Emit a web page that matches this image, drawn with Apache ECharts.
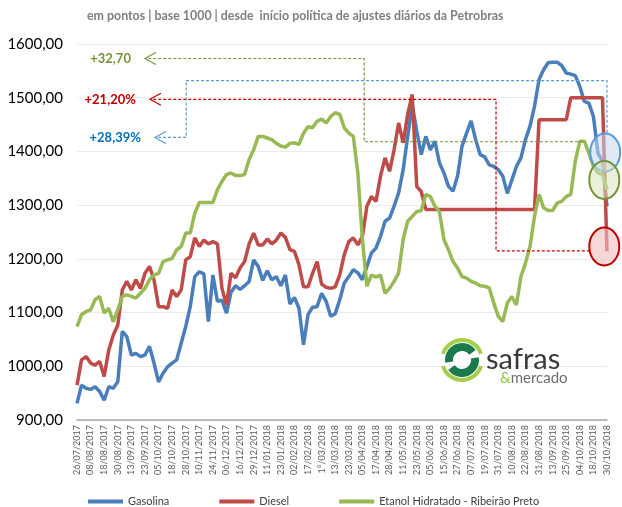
<!DOCTYPE html>
<html>
<head>
<meta charset="utf-8">
<script src="https://cdn.jsdelivr.net/npm/echarts/dist/echarts.min.js"></script>
<style>
    * { margin: 0; padding: 0; }
    body { background: #FFFFFF; }
    #main { width: 622px; height: 507px; }
</style>
</head>
<body>
<div id="main"></div>
<script>
    // rótulos do eixo x (um a cada 3 pontos)
    var dateLabels = ['26/07/2017', '08/08/2017', '18/08/2017', '30/08/2017', '13/09/2017', '23/09/2017',
        '05/10/2017', '18/10/2017', '28/10/2017', '10/11/2017', '24/11/2017', '06/12/2017', '16/12/2017',
        '29/12/2017', '11/01/2018', '23/01/2018', '02/02/2018', '17/02/2018', '1°/03/2018', '13/03/2018',
        '23/03/2018', '05/04/2018', '17/04/2018', '28/04/2018', '11/05/2018', '23/05/2018', '05/06/2018',
        '15/06/2018', '27/06/2018', '07/07/2018', '19/07/2018', '31/07/2018', '10/08/2018', '22/08/2018',
        '31/08/2018', '13/09/2018', '25/09/2018', '04/10/2018', '18/10/2018', '30/10/2018'];

    var gasolina = [
        931, 965, 959, 957, 962, 953, 937, 962, 959, 971,
        1065, 1055, 1021, 1024, 1018, 1021, 1037, 1006, 971, 987,
        999, 1006, 1012, 1043, 1074, 1111, 1167, 1176, 1172, 1083,
        1170, 1121, 1123, 1099, 1138, 1150, 1143, 1150, 1158, 1198,
        1186, 1160, 1178, 1161, 1167, 1150, 1170, 1116, 1128, 1108,
        1040, 1096, 1110, 1111, 1136, 1121, 1093, 1098, 1124, 1155,
        1167, 1180, 1174, 1161, 1186, 1211, 1220, 1242, 1270, 1276,
        1298, 1323, 1366, 1428, 1487, 1438, 1394, 1428, 1403, 1419,
        1379, 1360, 1335, 1326, 1354, 1410, 1434, 1457, 1422, 1394,
        1390, 1375, 1372, 1366, 1354, 1322, 1347, 1372, 1388, 1422,
        1447, 1484, 1534, 1552, 1565, 1566, 1566, 1560, 1546, 1544,
        1541, 1521, 1493, 1490, 1465, 1397, 1382, 1298];

    var diesel = [
        965, 1012, 1018, 1006, 1002, 1009, 981, 1030, 1058, 1077,
        1142, 1158, 1142, 1161, 1145, 1173, 1186, 1161, 1111, 1111,
        1108, 1142, 1130, 1142, 1198, 1204, 1239, 1223, 1235, 1228,
        1232, 1228, 1145, 1114, 1173, 1165, 1183, 1195, 1228, 1248,
        1226, 1226, 1237, 1228, 1235, 1248, 1240, 1217, 1214, 1189,
        1148, 1148, 1173, 1195, 1153, 1147, 1145, 1148, 1170, 1208,
        1232, 1239, 1226, 1242, 1298, 1316, 1307, 1354, 1388, 1363,
        1403, 1453, 1416, 1469, 1506, 1335, 1325, 1292, 1292, 1292,
        1292, 1292, 1292, 1292, 1292, 1292, 1292, 1292, 1292, 1292,
        1292, 1292, 1292, 1292, 1292, 1292, 1292, 1292, 1292, 1292,
        1292, 1292, 1459, 1459, 1459, 1459, 1459, 1459, 1459, 1500,
        1500, 1500, 1500, 1500, 1500, 1500, 1500, 1214];

    var etanol = [
        1074, 1096, 1102, 1105, 1124, 1130, 1099, 1108, 1083, 1105,
        1130, 1133, 1130, 1127, 1136, 1145, 1161, 1170, 1173, 1195,
        1198, 1201, 1217, 1223, 1248, 1248, 1285, 1305, 1305, 1305,
        1305, 1329, 1344, 1357, 1360, 1355, 1355, 1357, 1385, 1403,
        1428, 1428, 1425, 1422, 1415, 1410, 1408, 1415, 1416, 1413,
        1434, 1446, 1444, 1456, 1460, 1453, 1465, 1472, 1469, 1444,
        1434, 1428, 1360, 1236, 1149, 1170, 1166, 1170, 1136, 1145,
        1158, 1174, 1236, 1270, 1279, 1288, 1290, 1320, 1316, 1298,
        1288, 1236, 1217, 1195, 1183, 1167, 1164, 1158, 1155, 1150,
        1149, 1146, 1118, 1093, 1083, 1118, 1130, 1114, 1167, 1192,
        1223, 1279, 1320, 1295, 1290, 1290, 1304, 1307, 1316, 1320,
        1382, 1419, 1419, 1397, 1372, 1360, 1357, 1329];

    var seriesNames = ['Gasolina', 'Diesel', 'Etanol Hidratado - Ribeirão Preto'];

    var categories = [];
    for (var i = 0; i < gasolina.length; i++) {
        categories.push(i % 3 === 0 ? dateLabels[i / 3] : '');
    }

    var myChart = echarts.init(document.getElementById('main'));

    function fmt(v) {
        return v.toFixed(2).replace('.', ',');
    }

    var option = {
        animation: false,
        color: ['#4A7EBB', '#BE4B48', '#98B954'],
        grid: { left: 77, right: 15, top: 44, bottom: 87 },
        legend: {
            left: 83,
            top: 491,
            itemWidth: 35,
            itemHeight: 4,
            itemGap: 50,
            icon: 'rect',
            textStyle: { fontFamily: 'Lato', fontSize: 11, color: '#404040' },
            data: seriesNames
        },
        xAxis: {
            type: 'category',
            boundaryGap: false,
            data: categories,
            axisLine: { lineStyle: { color: '#A6A6A6', width: 1.5 } },
            axisTick: { show: false },
            axisLabel: {
                interval: 2,
                rotate: 90,
                margin: 5,
                fontFamily: 'Lato',
                fontSize: 9,
                color: '#595959'
            }
        },
        yAxis: {
            type: 'value',
            min: 900,
            max: 1600,
            interval: 100,
            axisLine: { show: false },
            axisTick: { show: false },
            splitLine: { lineStyle: { color: '#EBEBEB', width: 1 } },
            axisLabel: {
                margin: 14,
                fontFamily: 'Lato',
                fontSize: 15,
                color: '#000000',
                formatter: fmt
            }
        },
        series: [
            { name: seriesNames[0], type: 'line', data: gasolina, showSymbol: false, lineStyle: { width: 3.5 } },
            { name: seriesNames[1], type: 'line', data: diesel, showSymbol: false, lineStyle: { width: 3.5 } },
            { name: seriesNames[2], type: 'line', data: etanol, showSymbol: false, lineStyle: { width: 3.5 } }
        ]
    };

    myChart.setOption(option);

    // anotações (índice de categoria, valor)
    var annotations = [
        { text: '+32,70', color: '#77933C', dash: '#77933C',
          path: [[111.7, 1418], [63.4, 1418], [63.4, 1573], [15.0, 1573]] },
        { text: '+21,20%', color: '#C00000', dash: '#C00000',
          path: [[113.2, 1215], [92.5, 1215], [92.5, 1497], [16.1, 1497]] },
        { text: '+28,39%', color: '#0070C0', dash: '#5B9BD5',
          path: [[117, 1435], [117, 1532], [24.1, 1532], [24.1, 1426], [17.2, 1426]] }
    ];
    var ellipses = [
        { at: [116.6, 1398], fill: 'rgba(198,217,241,0.55)', stroke: '#5B9BD5' },
        { at: [116.4, 1347], fill: 'rgba(215,228,189,0.55)', stroke: '#77933C' },
        { at: [116.4, 1223], fill: 'rgba(242,190,190,0.6)', stroke: '#C00000' }
    ];

    function P(idx, v) {
        var a = myChart.convertToPixel({ gridIndex: 0 }, [0, v]);
        var b = myChart.convertToPixel({ gridIndex: 0 }, [gasolina.length - 1, v]);
        return [a[0] + (b[0] - a[0]) * idx / (gasolina.length - 1), a[1]];
    }

    var graphics = [];

    graphics.push({
        type: 'text', left: 87, top: 10,
        style: {
            text: 'em pontos | base 1000 | desde  início política de ajustes diários da Petrobras',
            fill: '#7F7F7F', font: 'bold 12.4px Lato'
        }
    });

    annotations.forEach(function (a) {
        var pts = a.path.map(function (p) { return P(p[0], p[1]); });
        graphics.push({
            type: 'polyline', z: 100, silent: true,
            shape: { points: pts },
            style: { stroke: a.dash, lineWidth: 1.2, lineDash: [3, 2], fill: null }
        });
        var tip = pts[pts.length - 1];
        graphics.push({
            type: 'polyline', z: 100, silent: true,
            shape: { points: [[tip[0] + 11, tip[1] - 6], tip, [tip[0] + 11, tip[1] + 6]] },
            style: { stroke: a.dash, lineWidth: 1.2, fill: null }
        });
        graphics.push({
            type: 'text', z: 100, silent: true,
            x: tip[0] - 14, y: tip[1],
            style: {
                text: a.text, fill: a.color, font: 'bold 13px Lato',
                align: 'right', verticalAlign: 'middle'
            }
        });
    });

    ellipses.forEach(function (e) {
        var c = P(e.at[0], e.at[1]);
        graphics.push({
            type: 'ellipse', z: 100, silent: true,
            shape: { cx: c[0], cy: c[1], rx: 15, ry: 19 },
            style: { fill: e.fill, stroke: e.stroke, lineWidth: 2 }
        });
    });

    // logo safras & mercado
    graphics.push({
        type: 'group', x: 462, y: 360, z: 50, silent: true,
        children: [
            { type: 'sector', shape: { cx: 0, cy: 0, r0: 18, r: 22, startAngle: Math.PI * 1.1, endAngle: Math.PI * 1.9 }, style: { fill: '#A4CF4A' } },
            { type: 'sector', shape: { cx: 0, cy: 0, r0: 18, r: 22, startAngle: Math.PI * 0.1, endAngle: Math.PI * 0.9 }, style: { fill: '#A4CF4A' } },
            { type: 'sector', shape: { cx: 0, cy: 0, r0: 9, r: 17, startAngle: Math.PI * 0.95, endAngle: Math.PI * 1.8 }, style: { fill: '#1A7A4C' } },
            { type: 'sector', shape: { cx: 0, cy: 0, r0: 9, r: 17, startAngle: Math.PI * -0.05, endAngle: Math.PI * 0.8 }, style: { fill: '#1A7A4C' } }
        ]
    });
    graphics.push({
        type: 'text', x: 486, y: 360, z: 50, silent: true,
        style: { text: 'safras', fill: '#3A3A3A', font: '29px Lato', verticalAlign: 'middle' }
    });
    graphics.push({
        type: 'text', x: 500, y: 378, z: 50, silent: true,
        style: {
            text: '{a|&}{b|mercado}', verticalAlign: 'middle',
            rich: {
                a: { fill: '#8DC63F', font: '15px Lato' },
                b: { fill: '#6D6E70', font: '15px Lato' }
            }
        }
    });

    myChart.setOption({ graphic: graphics });
</script>
</body>
</html>
